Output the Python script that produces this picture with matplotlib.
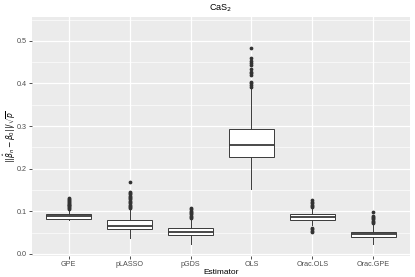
import numpy as np
import matplotlib.pyplot as plt

plt.rcParams['font.family'] = ['Liberation Sans', 'DejaVu Sans']

# Estimadores y estadisticos de caja
estimators = ["GPE", "pLASSO", "pGDS", "OLS", "Orac.OLS", "Orac.GPE"]
whisker_low = [0.0796, 0.038, 0.0227, 0.152, 0.067, 0.0227]
q1 = [0.082, 0.0586, 0.0438, 0.228, 0.0797, 0.039]
median = [0.0880, 0.0663, 0.0508, 0.256, 0.0867, 0.0469]
q3 = [0.093, 0.079, 0.060, 0.293, 0.0937, 0.0523]
whisker_high = [0.105, 0.105, 0.080, 0.388, 0.108, 0.069]

outliers = [
    [0.106, 0.108, 0.110, 0.112, 0.114, 0.116, 0.118, 0.120, 0.122, 0.124, 0.126, 0.128, 0.131],
    [0.107, 0.110, 0.113, 0.116, 0.119, 0.122, 0.125, 0.128, 0.131, 0.134, 0.137, 0.140, 0.143, 0.146, 0.168],
    [0.084, 0.087, 0.090, 0.093, 0.096, 0.099, 0.102, 0.105, 0.1085],
    [0.392, 0.396, 0.400, 0.404, 0.419, 0.424, 0.428, 0.433, 0.443, 0.448, 0.453, 0.459, 0.483],
    [0.0523, 0.055, 0.058, 0.0617, 0.110, 0.113, 0.116, 0.119, 0.122, 0.1257],
    [0.072, 0.075, 0.078, 0.081, 0.084, 0.087, 0.090, 0.099],
]

stats = []
for i, name in enumerate(estimators):
    stats.append(dict(label=name, whislo=whisker_low[i], q1=q1[i], med=median[i],
                      q3=q3[i], whishi=whisker_high[i], fliers=outliers[i]))

fig = plt.figure(figsize=(4.15, 2.77), dpi=100)
ax = fig.add_axes([32 / 415, 21 / 277, 378 / 415, 239 / 277])
ax.set_facecolor("#EBEBEB")

pos = np.arange(1, len(estimators) + 1)
ax.bxp(stats, positions=pos, widths=0.75, patch_artist=True, showfliers=True,
       boxprops=dict(facecolor="white", edgecolor="#3a3a3a", linewidth=0.7),
       medianprops=dict(color="#3a3a3a", linewidth=1.3),
       whiskerprops=dict(color="#3a3a3a", linewidth=0.7),
       capprops=dict(linewidth=0),
       flierprops=dict(marker="o", markersize=1.7, markerfacecolor="#333333",
                       markeredgecolor="#333333", linestyle="none"),
       zorder=3)

ax.set_xlim(0.4, len(estimators) + 0.6)
ax.set_ylim(-0.0047, 0.556)
ax.set_yticks([0.0, 0.1, 0.2, 0.3, 0.4, 0.5])
ax.set_yticklabels(["0.0", "0.1", "0.2", "0.3", "0.4", "0.5"])
ax.set_yticks([0.05, 0.15, 0.25, 0.35, 0.45, 0.55], minor=True)
ax.set_xticks(pos)
ax.set_xticklabels(estimators)

ax.grid(True, which="major", color="white", linewidth=0.9, zorder=0)
ax.grid(True, which="minor", axis="y", color="white", linewidth=0.45, zorder=0)
ax.set_axisbelow(True)
for s in ax.spines.values():
    s.set_visible(False)
ax.tick_params(which="major", length=2, width=0.6, color="#333333",
               labelsize=5.2, labelcolor="#4D4D4D", pad=1.5)
ax.tick_params(which="minor", length=0)

ax.set_title("CaS$_2$", fontsize=6.5, pad=5)
ax.set_xlabel("Estimator", fontsize=6, labelpad=1)
ax.set_ylabel(r"$||\hat{\beta}_n - \beta_0||/\sqrt{p}$", fontsize=5.5)
ax.yaxis.set_label_coords(-0.036, 0.5)

fig.savefig("out.png", dpi=100)
